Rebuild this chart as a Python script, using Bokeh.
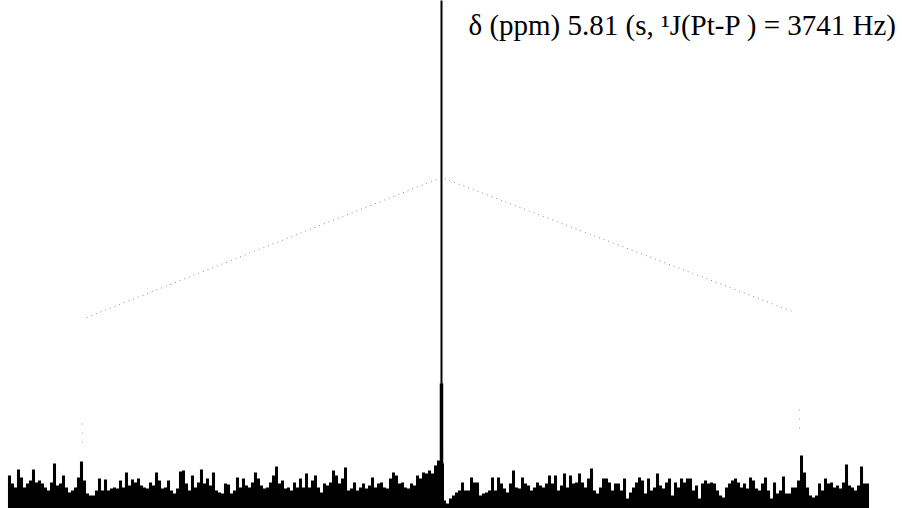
import numpy as np
from bokeh.plotting import figure
from bokeh.models import Range1d
from bokeh.core.properties import value
from bokeh.embed import file_html
from bokeh.resources import INLINE

# --- data (ppm axis, intensity in arbitrary units) ---
shift_ppm = 5.81
coupling_hz = 3741
satellite_ppm = [17.34, -5.69]
satellite_mark_low = [66, 80]
satellite_mark_high = [91, 105]

main_peak_height = 620
main_peak_base_height = 125
main_peak_foot_height = 45

roof_ppm = [17.21, 5.81, -5.47]
roof_int = [191, 331, 197]

noise_start_ppm = 19.687
noise_end_ppm = -7.875
noise = [
    33, 25, 21, 39, 31, 21, 25, 28, 39, 26, 28, 25, 21, 18, 26, 45, 23, 25, 33, 21,
    16, 18, 21, 31, 47, 28, 15, 13, 13, 18, 30, 18, 29, 18, 20, 21, 20, 28, 21, 36,
    23, 29, 26, 30, 23, 21, 20,
    26, 23, 36, 28, 20, 21, 28, 18, 15, 20, 37, 38, 25, 18, 33, 21, 26, 39, 25, 30,
    23, 36, 18, 16, 15, 25, 24, 15, 18, 31, 21, 30, 23, 21, 26, 36, 30, 23, 20, 21,
    26, 33, 42, 25, 28, 20, 21, 18, 26, 21,
    30, 21, 35, 21, 28, 33, 21, 16, 25, 23, 26, 38, 33, 25, 30, 41, 18, 20, 26, 18,
    21, 25, 20, 23, 31, 21, 25, 26, 21, 20, 30, 36, 33, 25, 26, 21, 20, 25, 23, 33,
    30, 36, 35, 38, 35, 43, 48, 60, 8, 5,
    10, 13, 16, 18, 26, 18, 18, 31, 26, 26, 13, 15, 16, 18, 31, 18, 31, 25, 20, 16,
    25, 38, 21, 20, 31, 25, 23, 18, 21, 26, 23, 21, 25, 33, 25, 33, 18, 23, 35, 21,
    33, 25, 26, 35, 26, 21, 30, 40, 18, 15,
    21, 30, 30, 26, 18, 25, 25, 18, 30, 10, 16, 21, 26, 31, 28, 15, 30, 18, 21, 35,
    23, 20, 26, 30, 13, 26, 21, 30, 26, 30, 30, 18, 23, 10, 25, 28, 25, 26, 25, 18,
    13, 11, 21, 25, 28, 30, 26, 21, 25, 20,
    31, 28, 20, 18, 25, 31, 18, 10, 26, 15, 18, 32, 15, 15, 21, 21, 28, 53, 36, 21,
    13, 11, 13, 25, 18, 30, 25, 26, 21, 23, 20, 26, 44, 23, 21, 18, 23, 42, 25, 25,
]

label = "\u03b4 (ppm) 5.81 (s, \u00b9J(Pt-P ) = 3741 Hz)"
label_ppm = 4.943
label_int = 484

# --- figure ---
p = figure(width=902, height=508, output_backend="svg", toolbar_location=None,
           x_range=Range1d(19.976, -8.999), y_range=Range1d(0, 508),
           x_axis_location=None, y_axis_location=None, min_border=0)
p.outline_line_color = None
p.xgrid.visible = False
p.ygrid.visible = False
p.background_fill_color = "white"
p.border_fill_color = "white"

noise_ppm = np.linspace(noise_start_ppm, noise_end_ppm, len(noise))
step = abs(noise_ppm[1] - noise_ppm[0])
p.vbar(x=noise_ppm, top=noise, bottom=-20, width=step * 1.02,
       fill_color="black", line_color=None)

# main peak
p.segment(x0=[shift_ppm], y0=[0], x1=[shift_ppm], y1=[main_peak_height],
          line_color="black", line_width=2)
p.segment(x0=[shift_ppm], y0=[0], x1=[shift_ppm], y1=[main_peak_base_height],
          line_color="black", line_width=3.5)
p.segment(x0=[shift_ppm], y0=[0], x1=[shift_ppm], y1=[main_peak_foot_height],
          line_color="black", line_width=5)

# roof (dotted)
p.line(roof_ppm, roof_int, line_color="#8a8a8a", line_width=1, line_dash="1 4")
p.segment(x0=satellite_ppm, y0=satellite_mark_low, x1=satellite_ppm, y1=satellite_mark_high,
          line_color="#9a9a9a", line_width=1, line_dash="1 8")

p.text(x=[label_ppm], y=[label_int], text=[label], text_font=value("Liberation Serif"),
       text_font_size="29px", text_color="black", text_baseline="alphabetic",
       text_align="left")

open("out.html", "w").write(file_html(p, INLINE))
